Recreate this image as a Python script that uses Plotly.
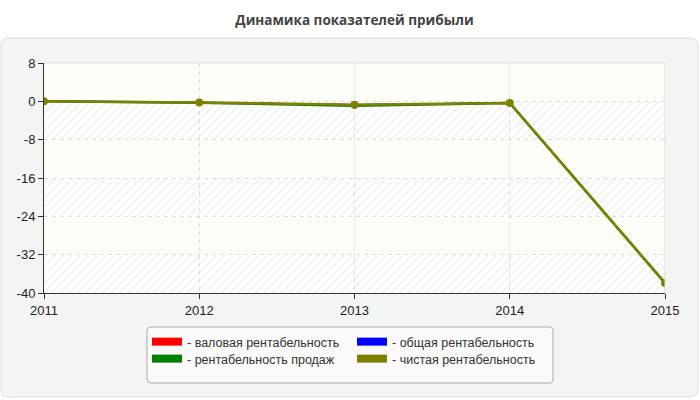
import plotly.graph_objects as go

years = [2011, 2012, 2013, 2014, 2015]
gross = [0.0, -0.25, -0.7, -0.35, -37.9]
overall = [0.0, -0.25, -0.7, -0.35, -37.9]
sales = [0.0, -0.3, -0.9, -0.35, -37.9]
net = [0.0, -0.25, -0.7, -0.35, -37.9]

series_names = ["- валовая рентабельность", "- общая рентабельность",
                "- рентабельность продаж", "- чистая рентабельность"]
series_values = [gross, overall, sales, net]
series_colors = ["#ff0000", "#0000ff", "#008000", "#808000"]
series_widths = [1.5, 1.5, 2.5, 2.5]
legend_ids = ["legend", "legend", "legend2", "legend2"]

y_ticks = [8, 0, -8, -16, -24, -32, -40]
y_ticktext = ["8", "0", "-8", "-16", "-24", "-32", "-40"]
title_text = "Динамика показателей прибыли"

# layout geometry (pixels)
W, H = 700, 400
L, R, T, B = 44, 665, 63, 293
PW, PH = R - L, B - T


def fx(px):
    return (px - L) / PW


def fy(py):
    return (B - py) / PH


def P(px, py):
    return f"{fx(px):.5f},{fy(py):.5f}"


def rounded(x0, y0, x1, y1, r):
    return (f"M {P(x0 + r, y0)} L {P(x1 - r, y0)} Q {P(x1, y0)} {P(x1, y0 + r)} "
            f"L {P(x1, y1 - r)} Q {P(x1, y1)} {P(x1 - r, y1)} "
            f"L {P(x0 + r, y1)} Q {P(x0, y1)} {P(x0, y1 - r)} "
            f"L {P(x0, y0 + r)} Q {P(x0, y0)} {P(x0 + r, y0)} Z")


fig = go.Figure()

# hatched bands
hatched = [(-8, 0), (-24, -16), (-40, -32)]
for lo, hi in hatched:
    fig.add_trace(go.Scatter(
        x=[years[0], years[-1], years[-1], years[0], years[0]],
        y=[lo, lo, hi, hi, lo],
        mode="none", fill="toself", fillcolor="rgba(255,255,255,0)",
        fillpattern=dict(shape="/", size=6, solidity=0.2,
                         fgcolor="#dadada", bgcolor="rgba(255,255,255,0)"),
        showlegend=False, hoverinfo="skip"))

for name, vals, col, lw in zip(series_names, series_values, series_colors, series_widths):
    fig.add_trace(go.Scatter(
        x=years, y=vals, mode="lines+markers", name=name,
        legendgroup=name, showlegend=False,
        line=dict(color=col, width=lw),
        marker=dict(color=col, size=8 if col == "#808000" else 6)))

for name, col, lg in zip(series_names, series_colors, legend_ids):
    fig.add_trace(go.Scatter(
        x=[None], y=[None], mode="lines", name=name,
        legendgroup=name, showlegend=True, legend=lg,
        line=dict(color=col, width=8)))

shapes = []
# panel with rounded corners
shapes.append(dict(type="path", path=rounded(1, 38, 698, 397, 8),
                   xref="paper", yref="paper",
                   fillcolor="#f4f4f4", line=dict(color="#dcdcdc", width=1),
                   layer="below"))
# legend box
shapes.append(dict(type="path", path=rounded(147, 327, 553, 383, 4),
                   xref="paper", yref="paper",
                   fillcolor="#fafafa", line=dict(color="#aaaaaa", width=1),
                   layer="below"))
# plot area background
shapes.append(dict(type="rect", xref="paper", yref="paper", x0=0, x1=1, y0=0, y1=1,
                   fillcolor="#fefef9", line=dict(width=0), layer="below"))
for lo, hi in hatched:
    shapes.append(dict(type="rect", xref="x", yref="y", x0=years[0], x1=years[-1],
                       y0=lo, y1=hi, fillcolor="#ffffff", line=dict(width=0),
                       layer="below"))
# top and right frame
shapes.append(dict(type="line", xref="paper", yref="paper", x0=0, x1=1, y0=1, y1=1,
                   line=dict(color="#dddddd", width=1), layer="above"))
shapes.append(dict(type="line", xref="paper", yref="paper", x0=1, x1=1, y0=0, y1=1,
                   line=dict(color="#dddddd", width=1), layer="above"))

legend_common = dict(orientation="h", xanchor="left", yanchor="top",
                     entrywidth=160, entrywidthmode="pixels",
                     bgcolor="rgba(0,0,0,0)", borderwidth=0,
                     font=dict(size=12.5, color="#333"), tracegroupgap=0,
                     itemclick=False, itemdoubleclick=False)

fig.update_layout(
    width=W, height=H,
    margin=dict(l=L, r=W - R, t=T, b=H - B, pad=0),
    paper_bgcolor="#ffffff",
    plot_bgcolor="rgba(0,0,0,0)",
    font=dict(family="Liberation Sans, Arial, sans-serif", size=13, color="#222"),
    title=dict(text="<b>" + title_text + "</b>", x=0.5, xref="paper",
               xanchor="center", y=1 - 20 / H, yanchor="middle",
               font=dict(family="Open Sans, sans-serif", size=13.5, color="#444")),
    shapes=shapes,
    showlegend=True,
    legend=dict(x=fx(147), y=fy(327), **legend_common),
    legend2=dict(x=fx(147), y=fy(344), **legend_common),
    hovermode="closest",
)

fig.update_xaxes(range=[years[0], years[-1]], tickvals=years,
                 ticktext=[str(y) for y in years],
                 showgrid=True, gridcolor="#dddddd", griddash="4px,4px", gridwidth=1,
                 showline=True, linecolor="#333333", linewidth=1,
                 ticks="outside", ticklen=5, tickcolor="#333333",
                 zeroline=False, fixedrange=True)
fig.update_yaxes(range=[-40, 8], tickvals=y_ticks, ticktext=y_ticktext,
                 showgrid=True, gridcolor="#dddddd", griddash="4px,4px", gridwidth=1,
                 showline=True, linecolor="#333333", linewidth=1,
                 ticks="outside", ticklen=5, tickcolor="#333333",
                 zeroline=False, fixedrange=True)

fig.write_html("out.html")
